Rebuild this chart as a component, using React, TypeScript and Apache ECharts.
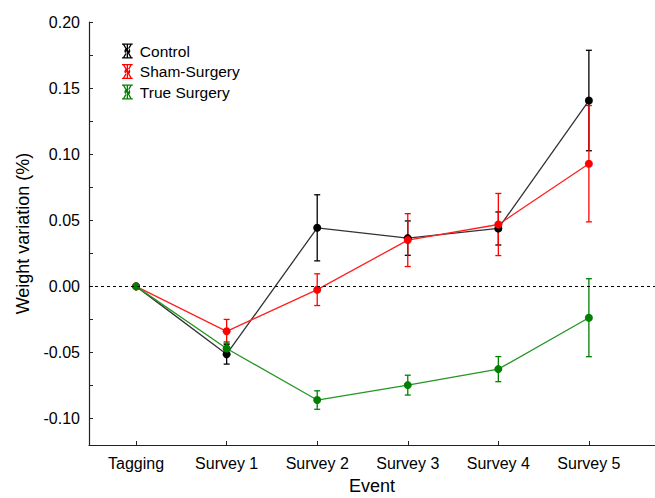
import React, { useEffect, useRef } from "react";
import * as echarts from "echarts";

const categories = ["Tagging", "Survey 1", "Survey 2", "Survey 3", "Survey 4", "Survey 5"];
const controlMean = [0, -0.0513, 0.0443, 0.0365, 0.0438, 0.1406];
const controlErr = [0, 0.0075, 0.025, 0.013, 0.0125, 0.038];
const shamMean = [0, -0.034, -0.0025, 0.035, 0.0468, 0.0928];
const shamErr = [0, 0.009, 0.012, 0.02, 0.0235, 0.044];
const trueMean = [0, -0.047, -0.086, -0.0747, -0.0626, -0.0237];
const trueErr = [0, 0.005, 0.007, 0.0075, 0.0095, 0.0295];
const yLabels = [-0.1, -0.05, 0, 0.05, 0.1, 0.15, 0.2];
const yTicks = [-0.1, -0.075, -0.05, -0.025, 0, 0.025, 0.05, 0.075, 0.1, 0.125, 0.15, 0.175, 0.2];

const FONT = "Liberation Sans, Arial, sans-serif";
const ICON =
  "path://M0,0H10V1.2H0Z M0,12.8H10V14H0Z M4.4,0H5.6V14H4.4Z M1,1.2L2.4,1.2L9,12.8L7.6,12.8Z M9,1.2L7.6,1.2L1,12.8L2.4,12.8Z M5,4.2A2.8,2.8 0 1 1 4.99,4.2Z";

const groups = [
  { name: "Control", mean: controlMean, err: controlErr, color: "#000000", line: "#333333" },
  { name: "Sham-Surgery", mean: shamMean, err: shamErr, color: "#ff0000", line: "#ff2020" },
  { name: "True Surgery", mean: trueMean, err: trueErr, color: "#008000", line: "#259525" },
];

export default function App() {
  const ref = useRef<HTMLDivElement>(null);
  useEffect(() => {
    const chart = echarts.init(ref.current!, null, { renderer: "svg" });
    const series: any[] = [];
    groups.forEach((g) => {
      series.push({
        type: "custom",
        name: g.name,
        silent: true,
        data: g.mean.map((m, i) => [i, m - g.err[i], m + g.err[i]]),
        renderItem: (params: any, api: any) => {
          const x = api.value(0);
          const lo = api.coord([x, api.value(1)]);
          const hi = api.coord([x, api.value(2)]);
          const w = 3;
          const st = { stroke: g.color, lineWidth: 1.3 };
          return {
            type: "group",
            children: [
              { type: "line", shape: { x1: lo[0], y1: lo[1], x2: hi[0], y2: hi[1] }, style: st },
              { type: "line", shape: { x1: lo[0] - w, y1: lo[1], x2: lo[0] + w, y2: lo[1] }, style: st },
              { type: "line", shape: { x1: hi[0] - w, y1: hi[1], x2: hi[0] + w, y2: hi[1] }, style: st },
            ],
          };
        },
        z: 2,
      });
      series.push({
        type: "line",
        name: g.name,
        data: g.mean.map((m, i) => [i, m]),
        symbol: "circle",
        symbolSize: 8,
        itemStyle: { color: g.color },
        lineStyle: { color: g.line, width: 1.3 },
        z: 3,
      });
    });
    series[1].markLine = {
      silent: true,
      symbol: "none",
      label: { show: false },
      lineStyle: { color: "#000", type: [3, 3], width: 1 },
      data: [{ yAxis: 0 }],
    };

    chart.setOption({
      animation: false,
      grid: { left: 89, right: 0, top: 22, bottom: 53, containLabel: false, outerBoundsMode: "none" },
      legend: {
        left: 117,
        top: 38,
        orient: "vertical",
        itemWidth: 11,
        itemHeight: 15,
        itemGap: 4.5,
        icon: ICON,
        textStyle: { fontFamily: FONT, fontSize: 15.5, color: "#000", lineHeight: 16, padding: [0, 0, 0, 2] },
        data: groups.map((g) => ({ name: g.name, itemStyle: { color: g.color } })),
      },
      xAxis: {
        type: "value",
        min: -0.52,
        max: 5.73,
        name: "Event",
        nameLocation: "middle",
        nameGap: 32,
        nameTextStyle: { fontFamily: FONT, fontSize: 18, color: "#000" },
        splitLine: { show: false },
        axisLine: { show: true, onZero: false, lineStyle: { color: "#222", width: 1.2 } },
        axisTick: { show: true, inside: true, length: 4, customValues: [0, 1, 2, 3, 4, 5], lineStyle: { color: "#222" } },
        axisLabel: {
          customValues: [0, 1, 2, 3, 4, 5],
          formatter: (v: number) => categories[Math.round(v)],
          fontFamily: FONT,
          fontSize: 16,
          color: "#000",
          margin: 10,
        },
      },
      yAxis: {
        type: "value",
        min: -0.12,
        max: 0.2,
        name: "Weight variation (%)",
        nameLocation: "middle",
        nameGap: 57,
        nameTextStyle: { fontFamily: FONT, fontSize: 18, color: "#000" },
        splitLine: { show: false },
        axisLine: { show: true, onZero: false, lineStyle: { color: "#222", width: 1.2 } },
        axisTick: { show: true, inside: true, length: 4, customValues: yTicks, lineStyle: { color: "#222" } },
        axisLabel: {
          customValues: yLabels,
          formatter: (v: number) => v.toFixed(2),
          fontFamily: FONT,
          fontSize: 16,
          color: "#000",
          margin: 9,
        },
      },
      series,
    });
    return () => chart.dispose();
  }, []);
  return <div ref={ref} style={{ width: 655, height: 498, position: "absolute", left: 0, top: 0 }} />;
}
